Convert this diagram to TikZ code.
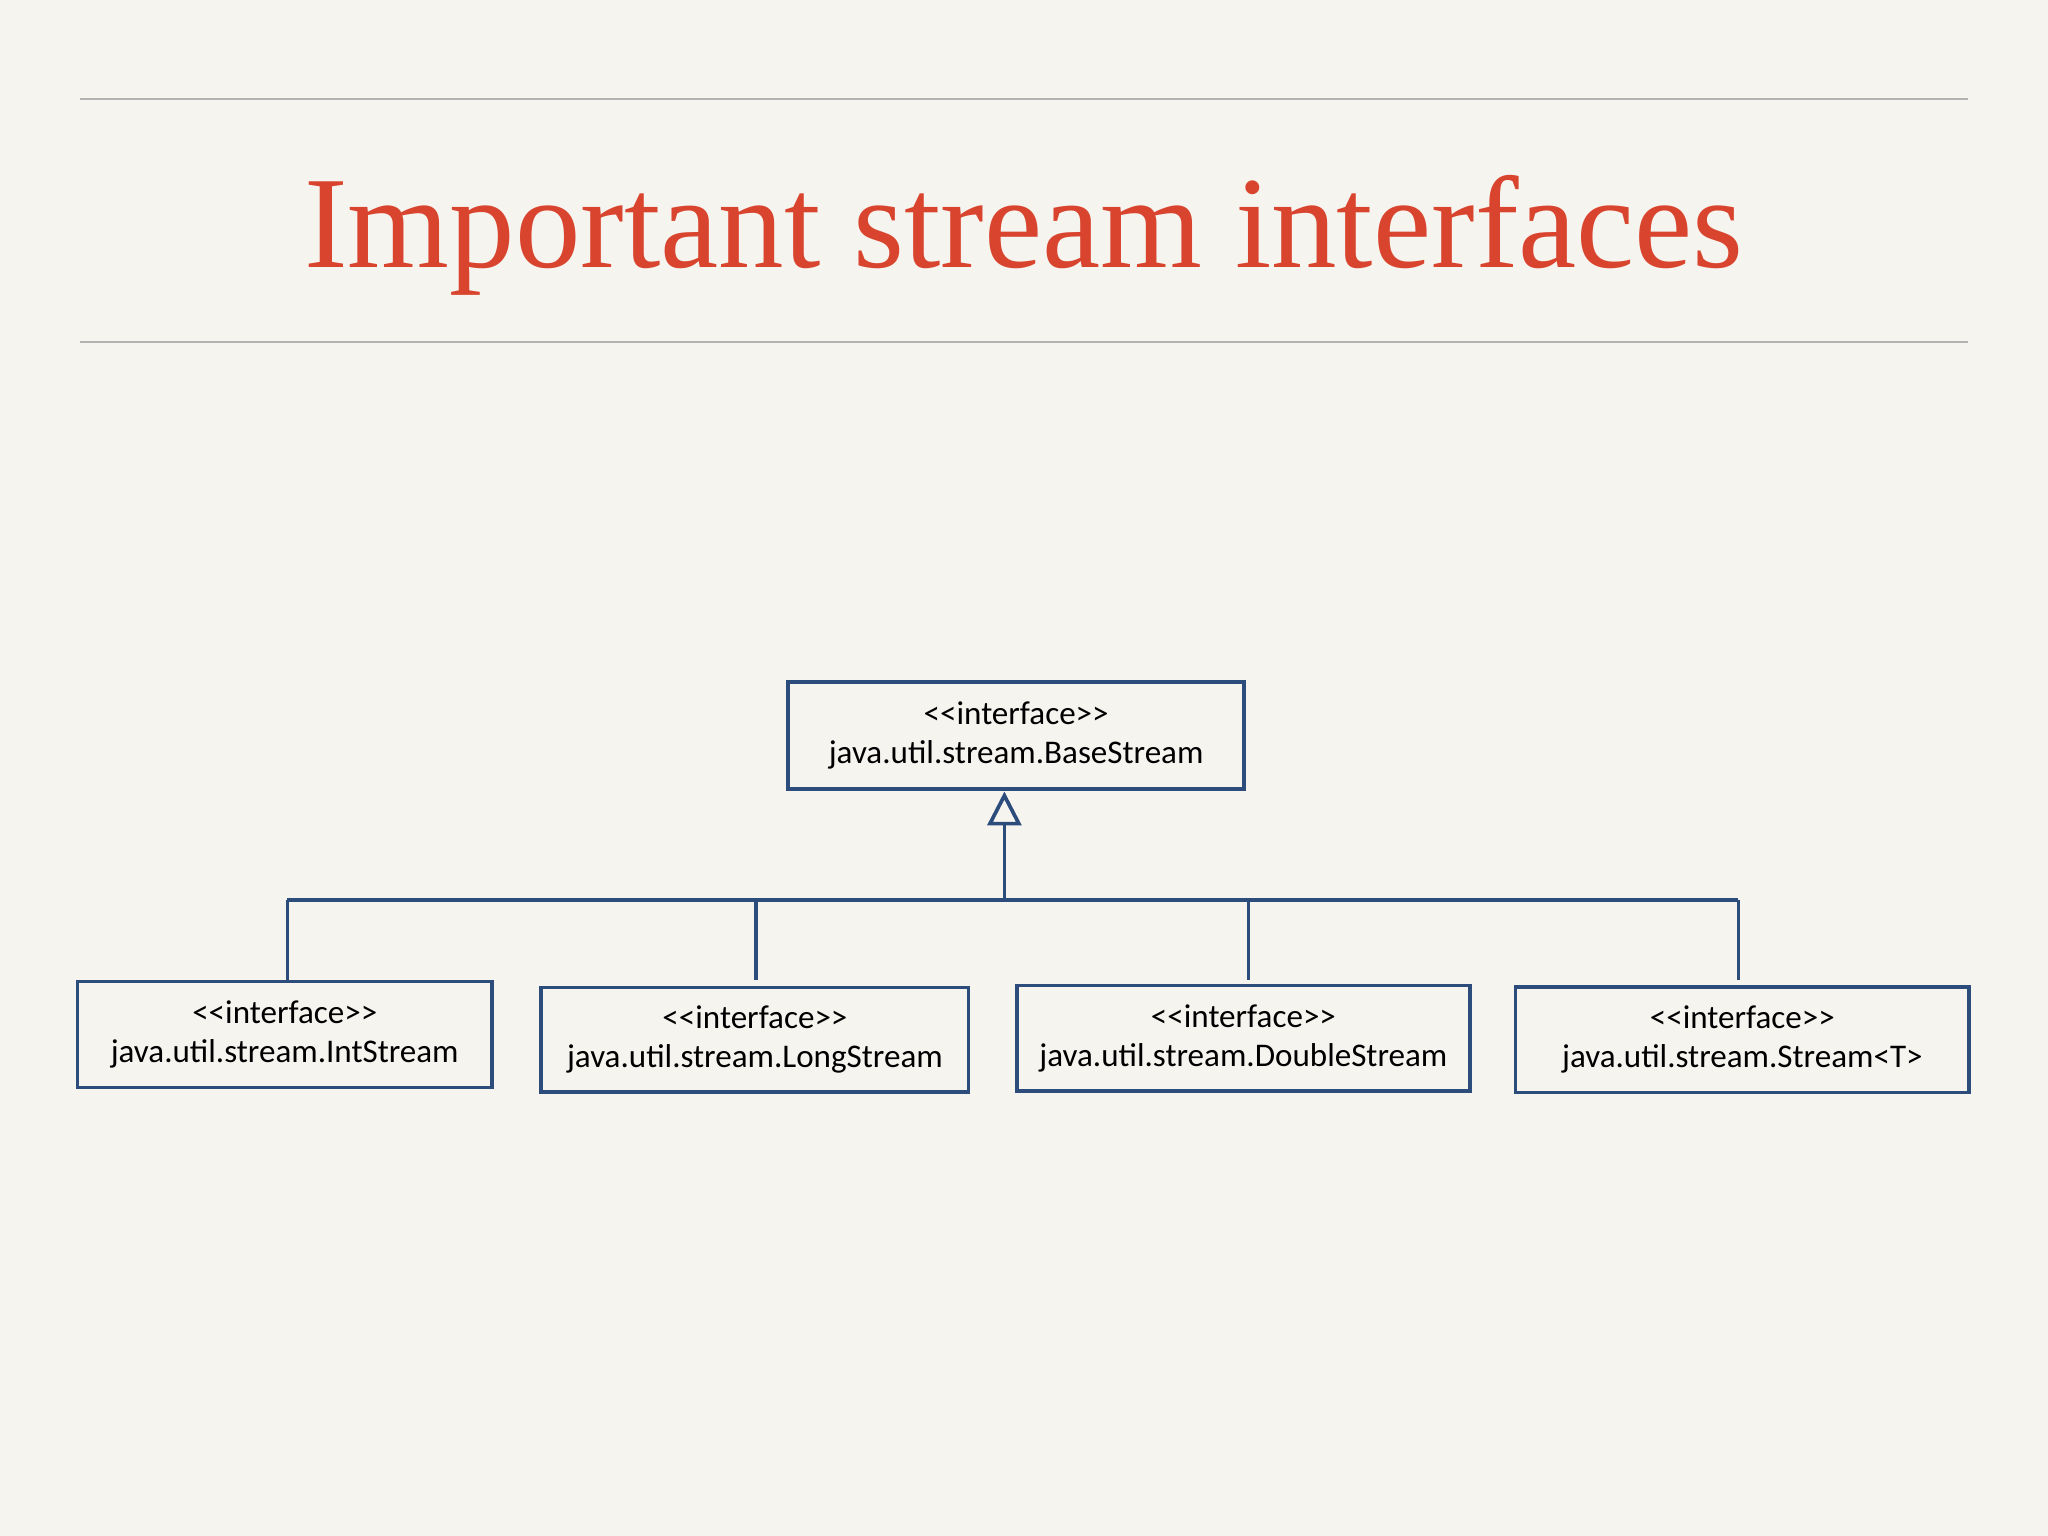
\documentclass[tikz,border=0pt]{standalone}
\usepackage{fontspec}
\setmainfont{Liberation Serif}
\newfontfamily\boxfont{Carlito}
\usetikzlibrary{arrows.meta}
\definecolor{slidebg}{HTML}{F6F4EF}
\definecolor{titlered}{HTML}{D9442E}
\definecolor{umlblue}{HTML}{2C4C7C}
\tikzset{
  iface/.style={draw=umlblue,line width=0.8pt,fill=slidebg,align=center,
    font=\boxfont\fontsize{7.2}{8.6}\selectfont,inner sep=0pt},
  link/.style={draw=umlblue,line width=0.8pt}
}
\begin{document}
\begin{tikzpicture}[x=0.01cm,y=-0.01cm]
    \fill[slidebg] (0,0) rectangle (1568,1176);
    \useasboundingbox (0,0) rectangle (1568,1176);
    \draw[gray!60,line width=0.4pt] (61,76) -- (1507,76);
    \draw[gray!60,line width=0.4pt] (61,262) -- (1507,262);
    \node[text=titlered,font=\fontsize{28.5}{32}\selectfont] (title) at (784,180) {Important stream interfaces};

    \node[iface,minimum width=3.49cm,minimum height=0.82cm] (base) at (778,563) {<<interface>>\\java.util.stream.BaseStream};
    \node[iface,minimum width=3.17cm,minimum height=0.81cm] (int) at (218,792) {<<interface>>\\java.util.stream.IntStream};
    \node[iface,minimum width=3.27cm,minimum height=0.80cm] (long) at (578,796) {<<interface>>\\java.util.stream.LongStream};
    \node[iface,minimum width=3.47cm,minimum height=0.81cm] (double) at (952,795) {<<interface>>\\java.util.stream.DoubleStream};
    \node[iface,minimum width=3.47cm,minimum height=0.81cm] (strm) at (1334,796) {<<interface>>\\java.util.stream.Stream<T>};

    \coordinate (join) at (769,689);
    \coordinate (tip) at (769,606);
    \draw[link,-{Triangle[open,width=0.26cm,length=0.26cm]}] (join) -- (tip);
    \draw[link] (220,689) -- (1331,689);
    \foreach \x/\b in {220/int,579/long,956/double,1331/strm} {
        \draw[link] (\x,689) -- (\x,750);
    }
\end{tikzpicture}
\end{document}
